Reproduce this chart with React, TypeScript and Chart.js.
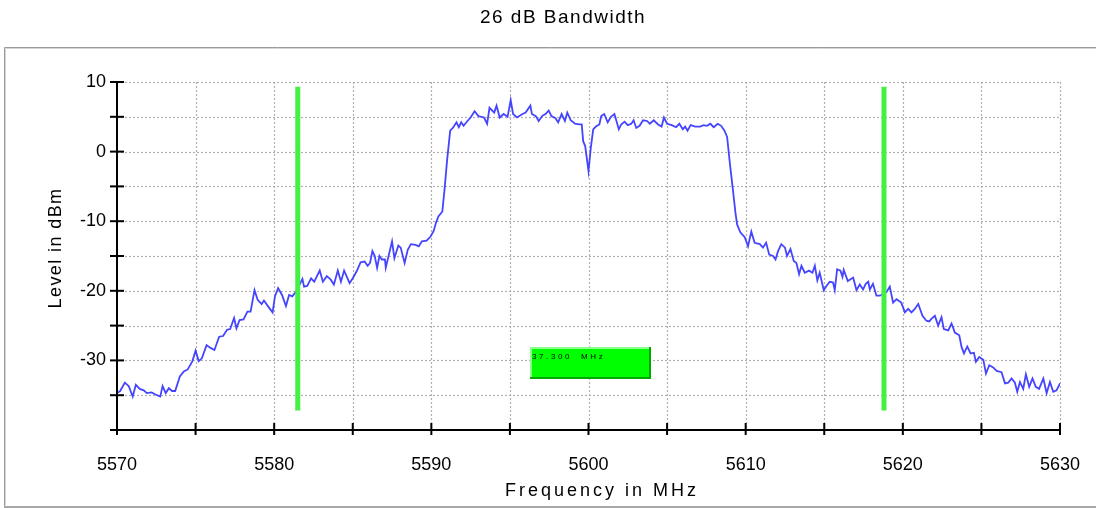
import React, { useEffect, useRef } from 'react';
import { Chart, registerables } from 'chart.js';

Chart.register(...registerables);

// ---- data ----
const chartTitle = '26 dB Bandwidth';
const xAxisTitle = 'Frequency in MHz';
const yAxisTitle = 'Level in dBm';

const freqMHz = [
  5570, 5570.2, 5570.5, 5570.75, 5571, 5571.2, 5571.45, 5571.7,
  5571.9, 5572.2, 5572.45, 5572.75, 5572.9, 5573.1, 5573.3, 5573.5,
  5573.7, 5574, 5574.25, 5574.5, 5574.8, 5575, 5575.2, 5575.4,
  5575.7, 5575.95, 5576.2, 5576.5, 5576.75, 5577, 5577.2, 5577.45,
  5577.6, 5577.8, 5578.05, 5578.3, 5578.5, 5578.75, 5578.95, 5579.2,
  5579.35, 5579.6, 5579.9, 5580.05, 5580.25, 5580.5, 5580.75, 5580.95,
  5581.15, 5581.4, 5581.8, 5581.9, 5582.1, 5582.35, 5582.55, 5582.9,
  5583.1, 5583.35, 5583.6, 5583.8, 5584.05, 5584.25, 5584.45, 5584.8,
  5585, 5585.25, 5585.5, 5585.75, 5585.95, 5586.1, 5586.25, 5586.4,
  5586.55, 5586.7, 5586.85, 5587.05, 5587.1, 5587.3, 5587.5, 5587.65,
  5587.9, 5588.05, 5588.3, 5588.5, 5588.7, 5589, 5589.2, 5589.4,
  5589.7, 5589.95, 5590.15, 5590.3, 5590.45, 5590.7, 5590.85, 5591,
  5591.2, 5591.4, 5591.6, 5591.75, 5591.9, 5592.05, 5592.3, 5592.5,
  5592.75, 5593, 5593.35, 5593.55, 5593.7, 5594, 5594.15, 5594.35,
  5594.6, 5594.85, 5595.05, 5595.2, 5595.45, 5595.8, 5596, 5596.3,
  5596.4, 5596.65,
  5596.83, 5597.05, 5597.26, 5597.47, 5597.64, 5597.9, 5598.07, 5598.29,
  5598.5, 5598.65, 5598.87, 5599.14, 5599.4, 5599.57, 5599.66, 5599.79,
  5600, 5600.15, 5600.3, 5600.47, 5600.69, 5600.81, 5601, 5601.22,
  5601.43, 5601.65, 5601.93, 5602.08, 5602.29, 5602.5, 5602.72, 5602.87,
  5603.04, 5603.25, 5603.47, 5603.73, 5603.9, 5604.15, 5604.43, 5604.65,
  5604.8, 5605, 5605.3, 5605.57, 5605.78, 5606, 5606.15, 5606.3,
  5606.5, 5606.79, 5607.1, 5607.32, 5607.54, 5607.75, 5607.97, 5608.22,
  5608.44, 5608.65, 5608.82, 5609, 5609.2, 5609.36,
  5609.46, 5609.66, 5609.94, 5610.15, 5610.36, 5610.57, 5610.9, 5611.1,
  5611.3, 5611.5, 5611.74, 5611.9, 5612.06, 5612.27, 5612.5, 5612.63,
  5612.85, 5613.06, 5613.23, 5613.4, 5613.55, 5613.76, 5614.03, 5614.25,
  5614.4, 5614.56, 5614.71, 5614.97, 5615.14, 5615.35, 5615.56, 5615.67,
  5615.82, 5616.03, 5616.16, 5616.24, 5616.5, 5616.84, 5617.05, 5617.26,
  5617.47, 5617.64, 5617.8, 5617.9, 5618.1, 5618.32, 5618.54, 5618.96,
  5619.17, 5619.38, 5619.6, 5619.9, 5620.13, 5620.34, 5620.55, 5620.76,
  5620.98, 5621.25, 5621.5, 5621.68, 5621.83, 5622.04, 5622.25, 5622.46,
  5622.61, 5622.89, 5623.1, 5623.31, 5623.59, 5623.74, 5623.89, 5624.1,
  5624.31, 5624.52, 5624.65, 5624.86, 5625.12, 5625.29, 5625.5, 5625.75,
  5625.97, 5626.28, 5626.5, 5626.71, 5626.92, 5627.13, 5627.28, 5627.45,
  5627.66, 5627.83, 5628.04, 5628.25, 5628.46, 5628.67, 5628.94, 5629.15,
  5629.36, 5629.57, 5629.78, 5630,
];

const levelDBm = [
  -34.7, -34.4, -33.2, -33.7, -35.2, -33.5, -34.1, -34.3,
  -34.7, -34.6, -34.9, -35.2, -33.7, -34.7, -34.0, -34.4,
  -34.4, -32.3, -31.6, -31.3, -30.1, -28.6, -30.1, -29.7,
  -27.8, -28.2, -28.5, -26.6, -26.5, -25.6, -25.5, -23.9,
  -25.4, -24.2, -24.1, -23.0, -23.0, -19.9, -21.3, -21.9,
  -21.4, -22.2, -23.1, -20.8, -19.6, -20.6, -22.2, -20.6,
  -20.8, -20.1, -18.3, -19.4, -19.3, -18.2, -18.7, -17.1,
  -18.7, -17.9, -18.4, -19.1, -17.1, -18.7, -17.1, -18.9,
  -18.2, -17.2, -15.9, -15.8, -16.4, -16.0, -14.3, -15.0,
  -16.7, -15.0, -15.5, -15.5, -16.7, -14.8, -12.9, -15.3,
  -13.5, -13.8, -16.0, -14.1, -13.3, -13.4, -13.6, -12.9,
  -12.8, -12.2, -11.4, -10.2, -9.3, -8.6, -5.2, -1.3,
  3.0, 3.5, 4.2, 3.5, 4.2, 3.7, 4.4, 4.9,
  5.8, 5.1, 4.9, 4.0, 6.3, 5.6, 6.6, 4.9,
  5.4, 5.0, 7.4, 5.4, 4.9, 5.4, 5.6, 6.6,
  5.4, 5.1,
  4.4, 5.1, 5.4, 5.9, 5.1, 4.8, 4.2, 5.4,
  4.4, 5.6, 4.5, 4.0, 3.9, 3.9, 1.5, 0.8,
  -2.8, 0.6, 3.2, 3.6, 3.9, 5.1, 5.4, 4.2,
  5.0, 5.4, 3.2, 3.9, 4.3, 3.8, 4.0, 4.5,
  3.4, 3.7, 4.5, 4.4, 4.0, 4.5, 3.9, 3.6,
  4.9, 4.0, 3.8, 3.5, 4.0, 3.2, 3.6, 3.0,
  3.8, 3.6, 3.6, 3.8, 3.7, 4.0, 3.5, 4.0,
  3.7, 3.0, 2.1, -1.8, -5.7, -9.0,
  -10.5, -11.6, -12.3, -13.6, -11.5, -13.1, -13.3, -13.8,
  -13.1, -14.8, -15.0, -15.5, -14.3, -13.3, -13.8, -15.0,
  -14.0, -15.7, -16.0, -17.6, -16.4, -17.4, -17.1, -17.4,
  -16.4, -18.5, -17.4, -19.9, -19.3, -18.7, -18.8, -19.9,
  -16.9, -17.1, -18.0, -17.0, -18.6, -18.1, -19.9, -19.1,
  -19.8, -19.0, -18.7, -19.8, -19.0, -20.7, -20.7, -20.2,
  -19.4, -21.7, -21.2, -21.7, -23.1, -22.6, -23.1, -22.6,
  -21.9, -23.6, -24.3, -24.4, -24.0, -23.6, -25.0, -23.8,
  -25.5, -25.7, -24.7, -26.0, -26.4, -28.1, -29.0, -28.0,
  -29.0, -28.9, -30.2, -29.5, -29.9, -31.9, -30.7, -31.0,
  -31.5, -31.7, -33.3, -33.2, -32.6, -33.2, -34.5, -33.1,
  -34.1, -32.0, -33.8, -32.6, -33.8, -34.1, -32.6, -34.7,
  -33.1, -34.5, -34.3, -33.3,
];

// bandwidth markers (MHz) and their vertical extent (dBm)
const markerFreqs = [5581.5, 5618.8];
const markerLevels = [9.3, -37.2];

// bandwidth readout box
const readoutText = '37.300 MHz';
const readoutFreqs = [5596.3, 5604.0];
const readoutLevels = [-28.1, -32.7];

// axis ranges and ticks
const xRange = [5570, 5630];
const yRange = [-40, 10];
const xLabelStep = 10;
const yLabelStep = 10;
const minorStep = 5;

const FONT = "'Liberation Sans', Arial, sans-serif";

const decorPlugin = {
  id: 'decor',
  beforeDraw(chart: any) {
    const ctx = chart.ctx as CanvasRenderingContext2D;
    ctx.save();
    ctx.fillStyle = '#ffffff';
    ctx.fillRect(0, 0, chart.width, chart.height);
    // outer frame
    ctx.lineWidth = 1;
    ctx.strokeStyle = '#9a9a9a';
    ctx.beginPath();
    ctx.moveTo(4.5, 506.5); ctx.lineTo(4.5, 47.5); ctx.lineTo(1096, 47.5);
    ctx.stroke();
    ctx.strokeStyle = '#d6d6d6';
    ctx.beginPath();
    ctx.moveTo(5.5, 505.5); ctx.lineTo(5.5, 48.5); ctx.lineTo(1096, 48.5);
    ctx.stroke();
    ctx.strokeStyle = '#a8a8a8';
    ctx.lineWidth = 2;
    ctx.beginPath();
    ctx.moveTo(4, 507); ctx.lineTo(1096, 507);
    ctx.stroke();

    // titles
    ctx.fillStyle = '#000';
    (ctx as any).letterSpacing = '1.5px';
    ctx.font = `19px ${FONT}`;
    ctx.textAlign = 'center';
    ctx.textBaseline = 'alphabetic';
    ctx.fillText(chartTitle, 563, 23);

    (ctx as any).letterSpacing = '3px';
    ctx.font = `18px ${FONT}`;
    ctx.fillText(xAxisTitle, 602, 496);

    (ctx as any).letterSpacing = '1.4px';
    ctx.save();
    ctx.translate(61, 248);
    ctx.rotate(-Math.PI / 2);
    ctx.textBaseline = 'alphabetic';
    ctx.fillText(yAxisTitle, 0, 0);
    ctx.restore();
    (ctx as any).letterSpacing = '0px';
    ctx.restore();
  },
  beforeDatasetsDraw(chart: any) {
    const ctx = chart.ctx as CanvasRenderingContext2D;
    const xs = chart.scales.x;
    const ys = chart.scales.y;
    const { left, right, top, bottom } = chart.chartArea;
    ctx.save();
    ctx.strokeStyle = '#b0b0b0';
    ctx.lineWidth = 1.2;
    ctx.setLineDash([2, 2]);
    for (let v = yRange[0] + minorStep; v <= yRange[1]; v += minorStep) {
      const py = Math.round(ys.getPixelForValue(v)) + 0.5;
      ctx.beginPath();
      ctx.moveTo(left, py);
      ctx.lineTo(right, py);
      ctx.stroke();
    }
    for (let v = xRange[0] + minorStep; v <= xRange[1]; v += minorStep) {
      const px = Math.round(xs.getPixelForValue(v)) + 0.5;
      ctx.beginPath();
      ctx.moveTo(px, top);
      ctx.lineTo(px, bottom);
      ctx.stroke();
    }
    ctx.restore();
  },
  afterDatasetsDraw(chart: any) {
    const ctx = chart.ctx as CanvasRenderingContext2D;
    const xs = chart.scales.x;
    const ys = chart.scales.y;
    const { left, right, top, bottom } = chart.chartArea;
    ctx.save();
    ctx.strokeStyle = '#000';
    ctx.lineWidth = 2;
    ctx.beginPath();
    ctx.moveTo(left, top);
    ctx.lineTo(left, bottom);
    ctx.lineTo(right, bottom);
    ctx.stroke();
    for (let v = yRange[0]; v <= yRange[1]; v += minorStep) {
      const py = ys.getPixelForValue(v);
      ctx.beginPath();
      ctx.moveTo(left - 7, py);
      ctx.lineTo(left + 7, py);
      ctx.stroke();
    }
    for (let v = xRange[0]; v <= xRange[1]; v += minorStep) {
      const px = xs.getPixelForValue(v);
      ctx.beginPath();
      ctx.moveTo(px, bottom - 7);
      ctx.lineTo(px, bottom + 5);
      ctx.stroke();
    }

    // readout box
    const bx0 = Math.round(xs.getPixelForValue(readoutFreqs[0]));
    const bx1 = Math.round(xs.getPixelForValue(readoutFreqs[1]));
    const by0 = Math.round(ys.getPixelForValue(readoutLevels[0]));
    const by1 = Math.round(ys.getPixelForValue(readoutLevels[1]));
    ctx.fillStyle = '#00ff00';
    ctx.fillRect(bx0, by0, bx1 - bx0, by1 - by0);
    ctx.fillStyle = '#8cff8c';
    ctx.fillRect(bx0, by0, bx1 - bx0, 2);
    ctx.fillRect(bx0, by0, 2, by1 - by0);
    ctx.fillStyle = '#00a800';
    ctx.fillRect(bx0, by1 - 2, bx1 - bx0, 2);
    ctx.fillRect(bx1 - 2, by0, 2, by1 - by0);

    ctx.fillStyle = '#000';
    ctx.font = `8px ${FONT}`;
    ctx.textAlign = 'left';
    ctx.textBaseline = 'alphabetic';
    let tx = bx0 + 2;
    for (const c of readoutText) {
      ctx.fillText(c, tx, by0 + 12);
      tx += c === ' ' ? 9 : ctx.measureText(c).width + 2.6;
    }
    ctx.restore();
  },
};

export default function App() {
  const ref = useRef<HTMLCanvasElement>(null);
  useEffect(() => {
    const canvas = ref.current;
    if (!canvas) return;
    const trace = freqMHz.map((f, i) => ({ x: f, y: levelDBm[i] }));
    const chart = new Chart(canvas, {
      type: 'scatter',
      data: {
        datasets: [
          ...markerFreqs.map((f) => ({
            data: [
              { x: f, y: markerLevels[0] },
              { x: f, y: markerLevels[1] },
            ],
            showLine: true,
            borderColor: '#44f044',
            backgroundColor: '#44f044',
            borderWidth: 5,
            borderCapStyle: 'butt' as const,
            pointRadius: 0,
            order: 0,
          })),
          {
            data: trace,
            showLine: true,
            borderColor: '#4545ff',
            backgroundColor: '#4545ff',
            borderWidth: 1.8,
            pointRadius: 0,
            tension: 0,
            order: 1,
          },
        ],
      },
      options: {
        animation: false,
        responsive: false,
        maintainAspectRatio: false,
        devicePixelRatio: 1,
        events: [],
        layout: { padding: { left: 0, top: 82, right: 36, bottom: 0 } },
        plugins: {
          legend: { display: false },
          tooltip: { enabled: false },
          title: { display: false },
        },
        scales: {
          x: {
            type: 'linear',
            min: xRange[0],
            max: xRange[1],
            grid: { display: false, drawTicks: false },
            border: { display: false },
            ticks: {
              stepSize: xLabelStep,
              autoSkip: false,
              maxRotation: 0,
              padding: 24,
              color: '#000',
              font: { family: FONT, size: 18 },
              callback: (v: any) => String(v),
            },
            afterFit: (s: any) => {
              s.height = 78;
              s.paddingLeft = 0;
              s.paddingRight = 0;
            },
          },
          y: {
            type: 'linear',
            min: yRange[0],
            max: yRange[1],
            grid: { display: false, drawTicks: false },
            border: { display: false },
            ticks: {
              stepSize: yLabelStep,
              autoSkip: false,
              padding: 11,
              color: '#000',
              font: { family: FONT, size: 18 },
              callback: (v: any) => (v === yRange[0] ? '' : String(v)),
            },
            afterFit: (s: any) => {
              s.width = 117;
              s.paddingTop = 0;
              s.paddingBottom = 0;
            },
          },
        },
      },
      plugins: [decorPlugin],
    });
    return () => chart.destroy();
  }, []);
  return (
    <canvas
      ref={ref}
      width={1096}
      height={508}
      style={{ position: 'fixed', left: 0, top: 0, width: 1096, height: 508 }}
    />
  );
}
